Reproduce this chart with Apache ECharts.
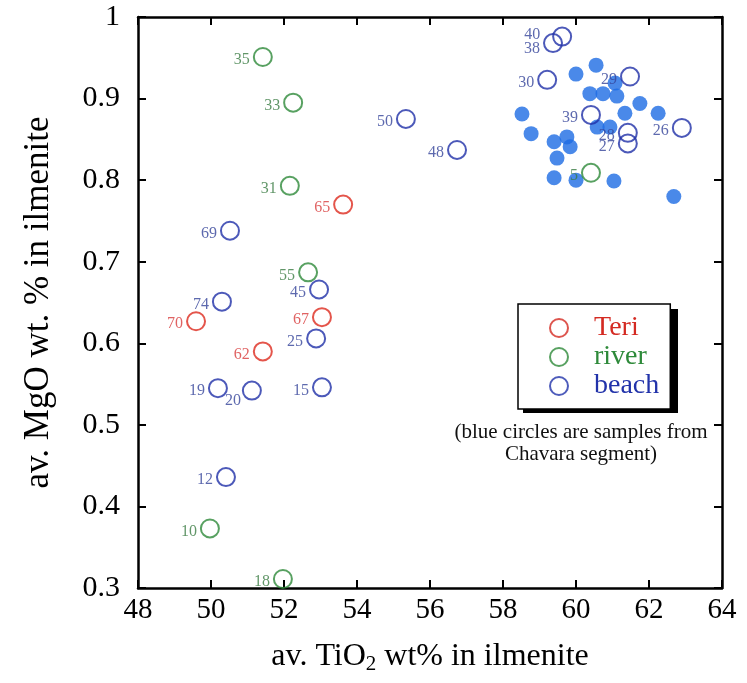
<!DOCTYPE html>
<html>
<head>
<meta charset="utf-8">
<script src="https://cdn.jsdelivr.net/npm/echarts@6/dist/echarts.min.js"></script>
<style>html,body{margin:0;padding:0;background:#fff;}#c{width:747px;height:683px;}</style>
</head>
<body>
<div id="c"></div>
<script>
// ---- data ----
const xTicks = [48, 50, 52, 54, 56, 58, 60, 62, 64];
const yTicks = [0.3, 0.4, 0.5, 0.6, 0.7, 0.8, 0.9, 1];

const teriLabels = ['65', '67', '70', '62'];
const teriX = [53.62, 53.04, 49.59, 51.42];
const teriY = [0.770, 0.632, 0.627, 0.590];

const riverLabels = ['35', '33', '31', '55', '10', '18', '5'];
const riverX = [51.42, 52.25, 52.16, 52.66, 49.97, 51.97, 60.41];
const riverY = [0.951, 0.895, 0.793, 0.687, 0.373, 0.311, 0.809];

const beachLabels = ['69', '74', '45', '25', '15', '19', '20', '12', '50', '48', '40', '38', '30', '29', '39', '28', '27', '26'];
const beachX = [50.52, 50.30, 52.96, 52.88, 53.04, 50.19, 51.12, 50.41, 55.34, 56.74, 59.62, 59.37, 59.21, 61.48, 60.41, 61.42, 61.42, 62.90];
const beachY = [0.738, 0.651, 0.666, 0.606, 0.546, 0.545, 0.542, 0.436, 0.875, 0.837, 0.976, 0.968, 0.923, 0.927, 0.880, 0.858, 0.845, 0.864];

const chavaraX = [60.55, 60.00, 61.07, 60.38, 60.74, 61.12, 61.75, 61.34, 62.25, 58.52, 60.58, 60.93, 58.77, 59.40, 59.75, 59.84, 59.48, 59.40, 60.00, 61.04, 62.68];
const chavaraY = [0.941, 0.930, 0.919, 0.906, 0.906, 0.903, 0.894, 0.882, 0.882, 0.881, 0.865, 0.865, 0.857, 0.847, 0.853, 0.841, 0.827, 0.803, 0.800, 0.799, 0.780];

const noteLines = ['(blue circles are samples from', 'Chavara segment)'];

// ---- styles ----
const SERIF = '"Liberation Serif", "DejaVu Serif", serif';
const labelOffsets = { '20': [2, 10], '38': [0, 6], '40': [-9, -2] };

function pts(xs, ys, labels) {
  return xs.map((x, i) => {
    const d = { value: [x, ys[i]] };
    if (labels) {
      d.name = labels[i];
      d.label = { offset: labelOffsets[labels[i]] || [0, 3] };
    }
    return d;
  });
}

function openSeries(name, xs, ys, labels, stroke, textColor) {
  return {
    name: name,
    type: 'scatter',
    symbol: 'circle',
    symbolSize: 18,
    z: 3,
    itemStyle: { color: 'rgba(255,255,255,0)', borderColor: stroke, borderWidth: 2 },
    label: {
      show: true, position: 'left', distance: 3,
      formatter: p => p.name,
      color: textColor, fontFamily: SERIF, fontSize: 16
    },
    emphasis: { disabled: true },
    data: pts(xs, ys, labels)
  };
}

const chart = echarts.init(document.getElementById('c'), null, { renderer: 'canvas' });

const axisCommon = {
  axisLine: { show: true, onZero: false, lineStyle: { color: '#000', width: 2.5 } },
  axisTick: { show: true, inside: true, length: 8, lineStyle: { color: '#000', width: 2 } },
  splitLine: { show: false }
};

chart.setOption({
  backgroundColor: '#fff',
  animation: false,
  grid: { left: 138, right: 25, top: 17, bottom: 95 },
  xAxis: [
    Object.assign({
      type: 'value', min: xTicks[0], max: xTicks[xTicks.length - 1], interval: 2,
      position: 'bottom',
      axisLabel: { color: '#000', fontFamily: SERIF, fontSize: 29, margin: 8 },
      name: 'av. TiO{sub|2} wt% in ilmenite',
      nameLocation: 'middle', nameGap: 50,
      nameTextStyle: {
        color: '#000', fontFamily: SERIF, fontSize: 32,
        rich: { sub: { fontFamily: SERIF, fontSize: 21, verticalAlign: 'bottom', padding: [16, 0, 0, 0], color: '#000' } }
      }
    }, axisCommon),
    Object.assign({
      type: 'value', min: xTicks[0], max: xTicks[xTicks.length - 1], interval: 2,
      position: 'top', axisLabel: { show: false }
    }, axisCommon)
  ],
  yAxis: [
    Object.assign({
      type: 'value', min: yTicks[0], max: yTicks[yTicks.length - 1], interval: 0.1,
      position: 'left',
      axisLabel: { color: '#000', fontFamily: SERIF, fontSize: 30, margin: 18, formatter: v => String(Math.round(v * 10) / 10) },
      name: 'av. MgO wt. % in ilmenite',
      nameLocation: 'middle', nameGap: 82,
      nameTextStyle: { color: '#000', fontFamily: SERIF, fontSize: 35 }
    }, axisCommon),
    Object.assign({
      type: 'value', min: yTicks[0], max: yTicks[yTicks.length - 1], interval: 0.1,
      position: 'right', axisLabel: { show: false }
    }, axisCommon)
  ],
  legend: {
    show: true,
    orient: 'vertical',
    left: 518, top: 304,
    padding: [10, 11, 9, 31],
    itemGap: 1,
    itemWidth: 18, itemHeight: 18,
    backgroundColor: '#fff',
    borderColor: '#000', borderWidth: 1.5,
    textStyle: { fontFamily: SERIF, fontSize: 28, padding: [0, 0, 0, 21] },
    data: [
      { name: 'Teri', textStyle: { color: '#d42a22' }, itemStyle: { color: 'rgba(255,255,255,0)', borderColor: '#d42a22', borderWidth: 2 } },
      { name: 'river', textStyle: { color: '#2e8a3a' }, itemStyle: { color: 'rgba(255,255,255,0)', borderColor: '#2e8a3a', borderWidth: 2 } },
      { name: 'beach', textStyle: { color: '#2233aa' }, itemStyle: { color: 'rgba(255,255,255,0)', borderColor: '#2233aa', borderWidth: 2 } }
    ]
  },
  graphic: [
    {
      type: 'rect', z: 1,
      shape: { x: 523, y: 309, width: 155, height: 104 },
      style: { fill: '#000' }
    }
  ].concat(noteLines.map((t, i) => ({
    type: 'text',
    x: 581, y: 432 + i * 22,
    style: { text: t, fontFamily: SERIF, fontSize: 21, fill: '#111', textAlign: 'center', textVerticalAlign: 'middle' }
  }))),
  series: [
    {
      name: 'Chavara',
      type: 'scatter',
      symbol: 'circle',
      symbolSize: 15,
      z: 2,
      itemStyle: { color: '#1d6be3' },
      emphasis: { disabled: true },
      data: pts(chavaraX, chavaraY)
    },
    openSeries('Teri', teriX, teriY, teriLabels, '#dd2a1e', '#d83c3c'),
    openSeries('river', riverX, riverY, riverLabels, '#2e8a3a', '#3a7c42'),
    openSeries('beach', beachX, beachY, beachLabels, '#1f2fa8', '#34449a')
  ]
});
</script>
</body>
</html>
